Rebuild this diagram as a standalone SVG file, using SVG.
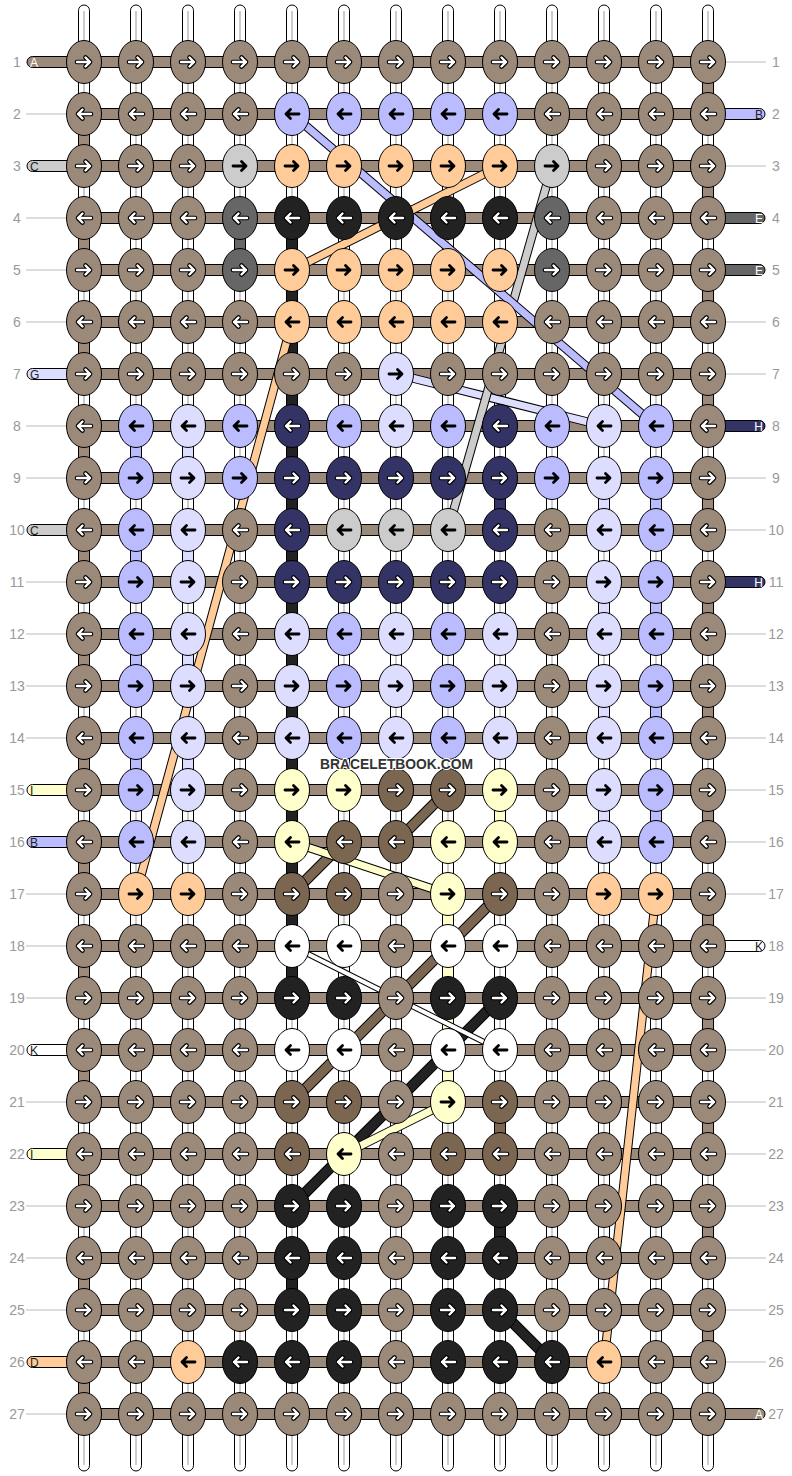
<svg xmlns="http://www.w3.org/2000/svg" xmlns:xlink="http://www.w3.org/1999/xlink" width="792" height="1476" viewBox="0 0 792 1476">
<style>
.st{fill:#fff;stroke:#000;stroke-width:1}
.sg{stroke:#000;stroke-width:1}
.a{fill:#9b8a7a}.b{fill:#bbbbff}.c{fill:#cccccc}.d{fill:#ffcc99}.e{fill:#666666}.f{fill:#222222}.g{fill:#ddddff}.h{fill:#333366}.i{fill:#ffffcc}.j{fill:#7b6651}.k{fill:#ffffff}
.lb{font-family:"Liberation Sans",Arial,sans-serif;font-size:14px;fill:#999;text-anchor:middle}
.sl{font-family:"Liberation Sans",Arial,sans-serif;font-size:12px}
.gl{stroke:#bbb;stroke-width:1}
.o{fill:none;stroke:#000}
</style>
<defs>
<path id="pr" d="M-7,0H6M1.5,-4.5L6,0L1.5,4.5" fill="none" stroke-linecap="round" stroke-linejoin="round"/>
<path id="pl" d="M7,0H-6M-1.5,-4.5L-6,0L-1.5,4.5" fill="none" stroke-linecap="round" stroke-linejoin="round"/>
<g id="wr"><use href="#pr" stroke="#000" stroke-width="4.6"/><use href="#pr" stroke="#fff" stroke-width="2.4"/></g>
<g id="wl"><use href="#pl" stroke="#000" stroke-width="4.6"/><use href="#pl" stroke="#fff" stroke-width="2.4"/></g>
<g id="br"><use href="#pr" stroke="#000" stroke-width="2.8"/></g>
<g id="bl"><use href="#pl" stroke="#000" stroke-width="2.8"/></g>
<ellipse id="kn" rx="17.5" ry="21.5" stroke="#000" stroke-width="1"/>
<g id="aR"><use href="#kn" class="a"/><use href="#wr"/></g>
<g id="aL"><use href="#kn" class="a"/><use href="#wl"/></g>
<g id="eR"><use href="#kn" class="e"/><use href="#wr"/></g>
<g id="eL"><use href="#kn" class="e"/><use href="#wl"/></g>
<g id="fR"><use href="#kn" class="f"/><use href="#wr"/></g>
<g id="fL"><use href="#kn" class="f"/><use href="#wl"/></g>
<g id="hR"><use href="#kn" class="h"/><use href="#wr"/></g>
<g id="hL"><use href="#kn" class="h"/><use href="#wl"/></g>
<g id="jR"><use href="#kn" class="j"/><use href="#wr"/></g>
<g id="jL"><use href="#kn" class="j"/><use href="#wl"/></g>
<g id="bR"><use href="#kn" class="b"/><use href="#br"/></g>
<g id="bL"><use href="#kn" class="b"/><use href="#bl"/></g>
<g id="cR"><use href="#kn" class="c"/><use href="#br"/></g>
<g id="cL"><use href="#kn" class="c"/><use href="#bl"/></g>
<g id="dR"><use href="#kn" class="d"/><use href="#br"/></g>
<g id="dL"><use href="#kn" class="d"/><use href="#bl"/></g>
<g id="gR"><use href="#kn" class="g"/><use href="#br"/></g>
<g id="gL"><use href="#kn" class="g"/><use href="#bl"/></g>
<g id="iR"><use href="#kn" class="i"/><use href="#br"/></g>
<g id="iL"><use href="#kn" class="i"/><use href="#bl"/></g>
<g id="kR"><use href="#kn" class="k"/><use href="#br"/></g>
<g id="kL"><use href="#kn" class="k"/><use href="#bl"/></g>
</defs>
<rect width="792" height="1476" fill="#fff"/>
<g id="strands">
<rect class="st" x="78.5" y="5" width="11" height="1466" rx="5.5"/>
<rect class="st" x="130.5" y="5" width="11" height="1466" rx="5.5"/>
<rect class="st" x="182.5" y="5" width="11" height="1466" rx="5.5"/>
<rect class="st" x="234.5" y="5" width="11" height="1466" rx="5.5"/>
<rect class="st" x="286.5" y="5" width="11" height="1466" rx="5.5"/>
<rect class="st" x="338.5" y="5" width="11" height="1466" rx="5.5"/>
<rect class="st" x="390.5" y="5" width="11" height="1466" rx="5.5"/>
<rect class="st" x="442.5" y="5" width="11" height="1466" rx="5.5"/>
<rect class="st" x="494.5" y="5" width="11" height="1466" rx="5.5"/>
<rect class="st" x="546.5" y="5" width="11" height="1466" rx="5.5"/>
<rect class="st" x="598.5" y="5" width="11" height="1466" rx="5.5"/>
<rect class="st" x="650.5" y="5" width="11" height="1466" rx="5.5"/>
<rect class="st" x="702.5" y="5" width="11" height="1466" rx="5.5"/>
<path d="M84,11V1465M136,11V1465M188,11V1465M240,11V1465M292,11V1465M344,11V1465M396,11V1465M448,11V1465M500,11V1465M552,11V1465M604,11V1465M656,11V1465M708,11V1465" stroke="#cccccc" stroke-width="2" fill="none"/>
</g>
<g id="connectors">
<g id="vertical-segments">
<rect class="sg a" x="78.5" y="114" width="11" height="52"/>
<rect class="sg a" x="78.5" y="218" width="11" height="52"/>
<rect class="sg a" x="78.5" y="322" width="11" height="52"/>
<rect class="sg a" x="78.5" y="426" width="11" height="52"/>
<rect class="sg a" x="78.5" y="530" width="11" height="52"/>
<rect class="sg a" x="78.5" y="634" width="11" height="52"/>
<rect class="sg a" x="78.5" y="738" width="11" height="52"/>
<rect class="sg a" x="78.5" y="842" width="11" height="52"/>
<rect class="sg a" x="78.5" y="946" width="11" height="52"/>
<rect class="sg a" x="78.5" y="1050" width="11" height="52"/>
<rect class="sg a" x="78.5" y="1154" width="11" height="52"/>
<rect class="sg a" x="78.5" y="1258" width="11" height="52"/>
<rect class="sg a" x="78.5" y="1362" width="11" height="52"/>
<rect class="sg a" x="702.5" y="62" width="11" height="52"/>
<rect class="sg a" x="702.5" y="166" width="11" height="52"/>
<rect class="sg a" x="702.5" y="270" width="11" height="52"/>
<rect class="sg a" x="702.5" y="374" width="11" height="52"/>
<rect class="sg a" x="702.5" y="478" width="11" height="52"/>
<rect class="sg a" x="702.5" y="582" width="11" height="52"/>
<rect class="sg a" x="702.5" y="686" width="11" height="52"/>
<rect class="sg a" x="702.5" y="790" width="11" height="52"/>
<rect class="sg a" x="702.5" y="894" width="11" height="52"/>
<rect class="sg a" x="702.5" y="998" width="11" height="52"/>
<rect class="sg a" x="702.5" y="1102" width="11" height="52"/>
<rect class="sg a" x="702.5" y="1206" width="11" height="52"/>
<rect class="sg a" x="702.5" y="1310" width="11" height="52"/>
<rect class="sg e" x="234.5" y="218" width="11" height="52"/>
<rect class="sg f" x="286.5" y="218" width="11" height="780"/>
<rect class="sg f" x="286.5" y="1258" width="11" height="52"/>
<rect class="sg b" x="130.5" y="426" width="11" height="52"/>
<rect class="sg b" x="130.5" y="530" width="11" height="52"/>
<rect class="sg b" x="130.5" y="634" width="11" height="52"/>
<rect class="sg b" x="130.5" y="738" width="11" height="52"/>
<rect class="sg g" x="182.5" y="426" width="11" height="52"/>
<rect class="sg g" x="182.5" y="530" width="11" height="52"/>
<rect class="sg g" x="182.5" y="634" width="11" height="52"/>
<rect class="sg g" x="182.5" y="738" width="11" height="52"/>
<rect class="sg h" x="494.5" y="478" width="11" height="52"/>
<rect class="sg g" x="598.5" y="478" width="11" height="52"/>
<rect class="sg g" x="598.5" y="582" width="11" height="52"/>
<rect class="sg g" x="598.5" y="686" width="11" height="52"/>
<rect class="sg g" x="598.5" y="790" width="11" height="52"/>
<rect class="sg b" x="650.5" y="478" width="11" height="52"/>
<rect class="sg b" x="650.5" y="582" width="11" height="52"/>
<rect class="sg b" x="650.5" y="686" width="11" height="52"/>
<rect class="sg b" x="650.5" y="790" width="11" height="52"/>
<rect class="sg i" x="494.5" y="790" width="11" height="52"/>
<rect class="sg i" x="442.5" y="894" width="11" height="208"/>
<rect class="sg j" x="494.5" y="1102" width="11" height="52"/>
<rect class="sg f" x="494.5" y="1206" width="11" height="52"/>
</g>
<g id="row-strings">
<rect class="sg a" x="84" y="56.5" width="624" height="11"/>
<rect class="sg a" x="84" y="108.5" width="624" height="11"/>
<rect class="sg a" x="84" y="160.5" width="624" height="11"/>
<rect class="sg a" x="84" y="212.5" width="624" height="11"/>
<rect class="sg a" x="84" y="264.5" width="624" height="11"/>
<rect class="sg a" x="84" y="316.5" width="624" height="11"/>
<rect class="sg a" x="84" y="368.5" width="624" height="11"/>
<rect class="sg a" x="84" y="420.5" width="624" height="11"/>
<rect class="sg a" x="84" y="472.5" width="624" height="11"/>
<rect class="sg a" x="84" y="524.5" width="624" height="11"/>
<rect class="sg a" x="84" y="576.5" width="624" height="11"/>
<rect class="sg a" x="84" y="628.5" width="624" height="11"/>
<rect class="sg a" x="84" y="680.5" width="624" height="11"/>
<rect class="sg a" x="84" y="732.5" width="624" height="11"/>
<rect class="sg a" x="84" y="784.5" width="624" height="11"/>
<rect class="sg a" x="84" y="836.5" width="624" height="11"/>
<rect class="sg a" x="84" y="888.5" width="624" height="11"/>
<rect class="sg a" x="84" y="940.5" width="624" height="11"/>
<rect class="sg a" x="84" y="992.5" width="624" height="11"/>
<rect class="sg a" x="84" y="1044.5" width="624" height="11"/>
<rect class="sg a" x="84" y="1096.5" width="624" height="11"/>
<rect class="sg a" x="84" y="1148.5" width="624" height="11"/>
<rect class="sg a" x="84" y="1200.5" width="624" height="11"/>
<rect class="sg a" x="84" y="1252.5" width="624" height="11"/>
<rect class="sg a" x="84" y="1304.5" width="624" height="11"/>
<rect class="sg a" x="84" y="1356.5" width="624" height="11"/>
<rect class="sg a" x="84" y="1408.5" width="624" height="11"/>
</g>
<g id="side-lines">
<path class="gl" d="M26,114H66M26,218H66M26,270H66M26,322H66M26,426H66M26,478H66M26,582H66M26,634H66M26,686H66M26,738H66M26,894H66M26,946H66M26,998H66M26,1102H66M26,1206H66M26,1258H66M26,1310H66M26,1414H66"/>
<path class="gl" d="M726,62H766M726,166H766M726,322H766M726,374H766M726,478H766M726,530H766M726,634H766M726,686H766M726,738H766M726,790H766M726,842H766M726,894H766M726,998H766M726,1050H766M726,1102H766M726,1154H766M726,1206H766M726,1258H766M726,1310H766M726,1362H766"/>
</g>
<g id="stubs">
<rect class="sg a" x="27" y="56.5" width="60" height="11" rx="5.5"/><text class="sl" x="30" y="66.5" fill="#fff">A</text>
<rect class="sg c" x="27" y="160.5" width="60" height="11" rx="5.5"/><text class="sl" x="30" y="170.5" fill="#222">C</text>
<rect class="sg g" x="27" y="368.5" width="60" height="11" rx="5.5"/><text class="sl" x="30" y="378.5" fill="#222">G</text>
<rect class="sg c" x="27" y="524.5" width="60" height="11" rx="5.5"/><text class="sl" x="30" y="534.5" fill="#222">C</text>
<rect class="sg i" x="27" y="784.5" width="60" height="11" rx="5.5"/><text class="sl" x="30" y="794.5" fill="#222">I</text>
<rect class="sg b" x="27" y="836.5" width="60" height="11" rx="5.5"/><text class="sl" x="30" y="846.5" fill="#222">B</text>
<rect class="sg k" x="27" y="1044.5" width="60" height="11" rx="5.5"/><text class="sl" x="30" y="1054.5" fill="#222">K</text>
<rect class="sg i" x="27" y="1148.5" width="60" height="11" rx="5.5"/><text class="sl" x="30" y="1158.5" fill="#222">I</text>
<rect class="sg d" x="27" y="1356.5" width="60" height="11" rx="5.5"/><text class="sl" x="30" y="1366.5" fill="#222">D</text>
<rect class="sg b" x="705" y="108.5" width="60" height="11" rx="5.5"/><text class="sl" x="763" y="118.5" fill="#222" text-anchor="end">B</text>
<rect class="sg e" x="705" y="212.5" width="60" height="11" rx="5.5"/><text class="sl" x="763" y="222.5" fill="#fff" text-anchor="end">E</text>
<rect class="sg e" x="705" y="264.5" width="60" height="11" rx="5.5"/><text class="sl" x="763" y="274.5" fill="#fff" text-anchor="end">E</text>
<rect class="sg h" x="705" y="420.5" width="60" height="11" rx="5.5"/><text class="sl" x="763" y="430.5" fill="#fff" text-anchor="end">H</text>
<rect class="sg h" x="705" y="576.5" width="60" height="11" rx="5.5"/><text class="sl" x="763" y="586.5" fill="#fff" text-anchor="end">H</text>
<rect class="sg k" x="705" y="940.5" width="60" height="11" rx="5.5"/><text class="sl" x="763" y="950.5" fill="#222" text-anchor="end">K</text>
<rect class="sg a" x="705" y="1408.5" width="60" height="11" rx="5.5"/><text class="sl" x="763" y="1418.5" fill="#fff" text-anchor="end">A</text>
</g>
<g id="diagonals" fill="none">
<path class="o" d="M396,374L604,426" stroke-width="9"/><path d="M396,374L604,426" stroke="#ddddff" stroke-width="7"/>
<path class="o" d="M552,166L448,530" stroke-width="9"/><path d="M552,166L448,530" stroke="#cccccc" stroke-width="7"/>
<path class="o" d="M292,114L656,426" stroke-width="9"/><path d="M292,114L656,426" stroke="#bbbbff" stroke-width="7"/>
<path class="o" d="M500,166L292,270" stroke-width="9"/><path d="M500,166L292,270" stroke="#ffcc99" stroke-width="7"/>
<path class="o" d="M292,322L136,894" stroke-width="9"/><path d="M292,322L136,894" stroke="#ffcc99" stroke-width="7"/>
<path class="o" d="M656,894L604,1362" stroke-width="9"/><path d="M656,894L604,1362" stroke="#ffcc99" stroke-width="7"/>
<path class="o" d="M448,790L396,842M344,842L292,894M500,894L292,1102" stroke-width="11"/><path d="M448,790L396,842M344,842L292,894M500,894L292,1102" stroke="#7b6651" stroke-width="9"/>
<path class="o" d="M500,998L292,1206M500,1310L552,1362" stroke-width="11"/><path d="M500,998L292,1206M500,1310L552,1362" stroke="#222222" stroke-width="9"/>
<path class="o" d="M292,842L448,894M448,1102L344,1154" stroke-width="9"/><path d="M292,842L448,894M448,1102L344,1154" stroke="#ffffcc" stroke-width="7"/>
<path class="o" d="M292,946L500,1050" stroke-width="6"/><path d="M292,946L500,1050" stroke="#ffffff" stroke-width="4"/>
</g>
</g>
<g id="knots">
<g id="row1"><use id="k1-1" href="#aR" x="84" y="62"/><use id="k1-2" href="#aR" x="136" y="62"/><use id="k1-3" href="#aR" x="188" y="62"/><use id="k1-4" href="#aR" x="240" y="62"/><use id="k1-5" href="#aR" x="292" y="62"/><use id="k1-6" href="#aR" x="344" y="62"/><use id="k1-7" href="#aR" x="396" y="62"/><use id="k1-8" href="#aR" x="448" y="62"/><use id="k1-9" href="#aR" x="500" y="62"/><use id="k1-10" href="#aR" x="552" y="62"/><use id="k1-11" href="#aR" x="604" y="62"/><use id="k1-12" href="#aR" x="656" y="62"/><use id="k1-13" href="#aR" x="708" y="62"/></g>
<g id="row2"><use id="k2-1" href="#aL" x="84" y="114"/><use id="k2-2" href="#aL" x="136" y="114"/><use id="k2-3" href="#aL" x="188" y="114"/><use id="k2-4" href="#aL" x="240" y="114"/><use id="k2-5" href="#bL" x="292" y="114"/><use id="k2-6" href="#bL" x="344" y="114"/><use id="k2-7" href="#bL" x="396" y="114"/><use id="k2-8" href="#bL" x="448" y="114"/><use id="k2-9" href="#bL" x="500" y="114"/><use id="k2-10" href="#aL" x="552" y="114"/><use id="k2-11" href="#aL" x="604" y="114"/><use id="k2-12" href="#aL" x="656" y="114"/><use id="k2-13" href="#aL" x="708" y="114"/></g>
<g id="row3"><use id="k3-1" href="#aR" x="84" y="166"/><use id="k3-2" href="#aR" x="136" y="166"/><use id="k3-3" href="#aR" x="188" y="166"/><use id="k3-4" href="#cR" x="240" y="166"/><use id="k3-5" href="#dR" x="292" y="166"/><use id="k3-6" href="#dR" x="344" y="166"/><use id="k3-7" href="#dR" x="396" y="166"/><use id="k3-8" href="#dR" x="448" y="166"/><use id="k3-9" href="#dR" x="500" y="166"/><use id="k3-10" href="#cR" x="552" y="166"/><use id="k3-11" href="#aR" x="604" y="166"/><use id="k3-12" href="#aR" x="656" y="166"/><use id="k3-13" href="#aR" x="708" y="166"/></g>
<g id="row4"><use id="k4-1" href="#aL" x="84" y="218"/><use id="k4-2" href="#aL" x="136" y="218"/><use id="k4-3" href="#aL" x="188" y="218"/><use id="k4-4" href="#eL" x="240" y="218"/><use id="k4-5" href="#fL" x="292" y="218"/><use id="k4-6" href="#fL" x="344" y="218"/><use id="k4-7" href="#fL" x="396" y="218"/><use id="k4-8" href="#fL" x="448" y="218"/><use id="k4-9" href="#fL" x="500" y="218"/><use id="k4-10" href="#eL" x="552" y="218"/><use id="k4-11" href="#aL" x="604" y="218"/><use id="k4-12" href="#aL" x="656" y="218"/><use id="k4-13" href="#aL" x="708" y="218"/></g>
<g id="row5"><use id="k5-1" href="#aR" x="84" y="270"/><use id="k5-2" href="#aR" x="136" y="270"/><use id="k5-3" href="#aR" x="188" y="270"/><use id="k5-4" href="#eR" x="240" y="270"/><use id="k5-5" href="#dR" x="292" y="270"/><use id="k5-6" href="#dR" x="344" y="270"/><use id="k5-7" href="#dR" x="396" y="270"/><use id="k5-8" href="#dR" x="448" y="270"/><use id="k5-9" href="#dR" x="500" y="270"/><use id="k5-10" href="#eR" x="552" y="270"/><use id="k5-11" href="#aR" x="604" y="270"/><use id="k5-12" href="#aR" x="656" y="270"/><use id="k5-13" href="#aR" x="708" y="270"/></g>
<g id="row6"><use id="k6-1" href="#aL" x="84" y="322"/><use id="k6-2" href="#aL" x="136" y="322"/><use id="k6-3" href="#aL" x="188" y="322"/><use id="k6-4" href="#aL" x="240" y="322"/><use id="k6-5" href="#dL" x="292" y="322"/><use id="k6-6" href="#dL" x="344" y="322"/><use id="k6-7" href="#dL" x="396" y="322"/><use id="k6-8" href="#dL" x="448" y="322"/><use id="k6-9" href="#dL" x="500" y="322"/><use id="k6-10" href="#aL" x="552" y="322"/><use id="k6-11" href="#aL" x="604" y="322"/><use id="k6-12" href="#aL" x="656" y="322"/><use id="k6-13" href="#aL" x="708" y="322"/></g>
<g id="row7"><use id="k7-1" href="#aR" x="84" y="374"/><use id="k7-2" href="#aR" x="136" y="374"/><use id="k7-3" href="#aR" x="188" y="374"/><use id="k7-4" href="#aR" x="240" y="374"/><use id="k7-5" href="#aR" x="292" y="374"/><use id="k7-6" href="#aR" x="344" y="374"/><use id="k7-7" href="#gR" x="396" y="374"/><use id="k7-8" href="#aR" x="448" y="374"/><use id="k7-9" href="#aR" x="500" y="374"/><use id="k7-10" href="#aR" x="552" y="374"/><use id="k7-11" href="#aR" x="604" y="374"/><use id="k7-12" href="#aR" x="656" y="374"/><use id="k7-13" href="#aR" x="708" y="374"/></g>
<g id="row8"><use id="k8-1" href="#aL" x="84" y="426"/><use id="k8-2" href="#bL" x="136" y="426"/><use id="k8-3" href="#gL" x="188" y="426"/><use id="k8-4" href="#bL" x="240" y="426"/><use id="k8-5" href="#hL" x="292" y="426"/><use id="k8-6" href="#bL" x="344" y="426"/><use id="k8-7" href="#gL" x="396" y="426"/><use id="k8-8" href="#bL" x="448" y="426"/><use id="k8-9" href="#hL" x="500" y="426"/><use id="k8-10" href="#bL" x="552" y="426"/><use id="k8-11" href="#gL" x="604" y="426"/><use id="k8-12" href="#bL" x="656" y="426"/><use id="k8-13" href="#aL" x="708" y="426"/></g>
<g id="row9"><use id="k9-1" href="#aR" x="84" y="478"/><use id="k9-2" href="#bR" x="136" y="478"/><use id="k9-3" href="#gR" x="188" y="478"/><use id="k9-4" href="#bR" x="240" y="478"/><use id="k9-5" href="#hR" x="292" y="478"/><use id="k9-6" href="#hR" x="344" y="478"/><use id="k9-7" href="#hR" x="396" y="478"/><use id="k9-8" href="#hR" x="448" y="478"/><use id="k9-9" href="#hR" x="500" y="478"/><use id="k9-10" href="#bR" x="552" y="478"/><use id="k9-11" href="#gR" x="604" y="478"/><use id="k9-12" href="#bR" x="656" y="478"/><use id="k9-13" href="#aR" x="708" y="478"/></g>
<g id="row10"><use id="k10-1" href="#aL" x="84" y="530"/><use id="k10-2" href="#bL" x="136" y="530"/><use id="k10-3" href="#gL" x="188" y="530"/><use id="k10-4" href="#aL" x="240" y="530"/><use id="k10-5" href="#hL" x="292" y="530"/><use id="k10-6" href="#cL" x="344" y="530"/><use id="k10-7" href="#cL" x="396" y="530"/><use id="k10-8" href="#cL" x="448" y="530"/><use id="k10-9" href="#hL" x="500" y="530"/><use id="k10-10" href="#aL" x="552" y="530"/><use id="k10-11" href="#gL" x="604" y="530"/><use id="k10-12" href="#bL" x="656" y="530"/><use id="k10-13" href="#aL" x="708" y="530"/></g>
<g id="row11"><use id="k11-1" href="#aR" x="84" y="582"/><use id="k11-2" href="#bR" x="136" y="582"/><use id="k11-3" href="#gR" x="188" y="582"/><use id="k11-4" href="#aR" x="240" y="582"/><use id="k11-5" href="#hR" x="292" y="582"/><use id="k11-6" href="#hR" x="344" y="582"/><use id="k11-7" href="#hR" x="396" y="582"/><use id="k11-8" href="#hR" x="448" y="582"/><use id="k11-9" href="#hR" x="500" y="582"/><use id="k11-10" href="#aR" x="552" y="582"/><use id="k11-11" href="#gR" x="604" y="582"/><use id="k11-12" href="#bR" x="656" y="582"/><use id="k11-13" href="#aR" x="708" y="582"/></g>
<g id="row12"><use id="k12-1" href="#aL" x="84" y="634"/><use id="k12-2" href="#bL" x="136" y="634"/><use id="k12-3" href="#gL" x="188" y="634"/><use id="k12-4" href="#aL" x="240" y="634"/><use id="k12-5" href="#gL" x="292" y="634"/><use id="k12-6" href="#bL" x="344" y="634"/><use id="k12-7" href="#gL" x="396" y="634"/><use id="k12-8" href="#bL" x="448" y="634"/><use id="k12-9" href="#gL" x="500" y="634"/><use id="k12-10" href="#aL" x="552" y="634"/><use id="k12-11" href="#gL" x="604" y="634"/><use id="k12-12" href="#bL" x="656" y="634"/><use id="k12-13" href="#aL" x="708" y="634"/></g>
<g id="row13"><use id="k13-1" href="#aR" x="84" y="686"/><use id="k13-2" href="#bR" x="136" y="686"/><use id="k13-3" href="#gR" x="188" y="686"/><use id="k13-4" href="#aR" x="240" y="686"/><use id="k13-5" href="#gR" x="292" y="686"/><use id="k13-6" href="#bR" x="344" y="686"/><use id="k13-7" href="#gR" x="396" y="686"/><use id="k13-8" href="#bR" x="448" y="686"/><use id="k13-9" href="#gR" x="500" y="686"/><use id="k13-10" href="#aR" x="552" y="686"/><use id="k13-11" href="#gR" x="604" y="686"/><use id="k13-12" href="#bR" x="656" y="686"/><use id="k13-13" href="#aR" x="708" y="686"/></g>
<g id="row14"><use id="k14-1" href="#aL" x="84" y="738"/><use id="k14-2" href="#bL" x="136" y="738"/><use id="k14-3" href="#gL" x="188" y="738"/><use id="k14-4" href="#aL" x="240" y="738"/><use id="k14-5" href="#gL" x="292" y="738"/><use id="k14-6" href="#bL" x="344" y="738"/><use id="k14-7" href="#gL" x="396" y="738"/><use id="k14-8" href="#bL" x="448" y="738"/><use id="k14-9" href="#gL" x="500" y="738"/><use id="k14-10" href="#aL" x="552" y="738"/><use id="k14-11" href="#gL" x="604" y="738"/><use id="k14-12" href="#bL" x="656" y="738"/><use id="k14-13" href="#aL" x="708" y="738"/></g>
<g id="row15"><use id="k15-1" href="#aR" x="84" y="790"/><use id="k15-2" href="#bR" x="136" y="790"/><use id="k15-3" href="#gR" x="188" y="790"/><use id="k15-4" href="#aR" x="240" y="790"/><use id="k15-5" href="#iR" x="292" y="790"/><use id="k15-6" href="#iR" x="344" y="790"/><use id="k15-7" href="#jR" x="396" y="790"/><use id="k15-8" href="#jR" x="448" y="790"/><use id="k15-9" href="#iR" x="500" y="790"/><use id="k15-10" href="#aR" x="552" y="790"/><use id="k15-11" href="#gR" x="604" y="790"/><use id="k15-12" href="#bR" x="656" y="790"/><use id="k15-13" href="#aR" x="708" y="790"/></g>
<g id="row16"><use id="k16-1" href="#aL" x="84" y="842"/><use id="k16-2" href="#bL" x="136" y="842"/><use id="k16-3" href="#gL" x="188" y="842"/><use id="k16-4" href="#aL" x="240" y="842"/><use id="k16-5" href="#iL" x="292" y="842"/><use id="k16-6" href="#jL" x="344" y="842"/><use id="k16-7" href="#jL" x="396" y="842"/><use id="k16-8" href="#iL" x="448" y="842"/><use id="k16-9" href="#iL" x="500" y="842"/><use id="k16-10" href="#aL" x="552" y="842"/><use id="k16-11" href="#gL" x="604" y="842"/><use id="k16-12" href="#bL" x="656" y="842"/><use id="k16-13" href="#aL" x="708" y="842"/></g>
<g id="row17"><use id="k17-1" href="#aR" x="84" y="894"/><use id="k17-2" href="#dR" x="136" y="894"/><use id="k17-3" href="#dR" x="188" y="894"/><use id="k17-4" href="#aR" x="240" y="894"/><use id="k17-5" href="#jR" x="292" y="894"/><use id="k17-6" href="#jR" x="344" y="894"/><use id="k17-7" href="#aR" x="396" y="894"/><use id="k17-8" href="#iR" x="448" y="894"/><use id="k17-9" href="#jR" x="500" y="894"/><use id="k17-10" href="#aR" x="552" y="894"/><use id="k17-11" href="#dR" x="604" y="894"/><use id="k17-12" href="#dR" x="656" y="894"/><use id="k17-13" href="#aR" x="708" y="894"/></g>
<g id="row18"><use id="k18-1" href="#aL" x="84" y="946"/><use id="k18-2" href="#aL" x="136" y="946"/><use id="k18-3" href="#aL" x="188" y="946"/><use id="k18-4" href="#aL" x="240" y="946"/><use id="k18-5" href="#kL" x="292" y="946"/><use id="k18-6" href="#kL" x="344" y="946"/><use id="k18-7" href="#aL" x="396" y="946"/><use id="k18-8" href="#kL" x="448" y="946"/><use id="k18-9" href="#kL" x="500" y="946"/><use id="k18-10" href="#aL" x="552" y="946"/><use id="k18-11" href="#aL" x="604" y="946"/><use id="k18-12" href="#aL" x="656" y="946"/><use id="k18-13" href="#aL" x="708" y="946"/></g>
<g id="row19"><use id="k19-1" href="#aR" x="84" y="998"/><use id="k19-2" href="#aR" x="136" y="998"/><use id="k19-3" href="#aR" x="188" y="998"/><use id="k19-4" href="#aR" x="240" y="998"/><use id="k19-5" href="#fR" x="292" y="998"/><use id="k19-6" href="#fR" x="344" y="998"/><use id="k19-7" href="#aR" x="396" y="998"/><use id="k19-8" href="#fR" x="448" y="998"/><use id="k19-9" href="#fR" x="500" y="998"/><use id="k19-10" href="#aR" x="552" y="998"/><use id="k19-11" href="#aR" x="604" y="998"/><use id="k19-12" href="#aR" x="656" y="998"/><use id="k19-13" href="#aR" x="708" y="998"/></g>
<g id="row20"><use id="k20-1" href="#aL" x="84" y="1050"/><use id="k20-2" href="#aL" x="136" y="1050"/><use id="k20-3" href="#aL" x="188" y="1050"/><use id="k20-4" href="#aL" x="240" y="1050"/><use id="k20-5" href="#kL" x="292" y="1050"/><use id="k20-6" href="#kL" x="344" y="1050"/><use id="k20-7" href="#aL" x="396" y="1050"/><use id="k20-8" href="#kL" x="448" y="1050"/><use id="k20-9" href="#kL" x="500" y="1050"/><use id="k20-10" href="#aL" x="552" y="1050"/><use id="k20-11" href="#aL" x="604" y="1050"/><use id="k20-12" href="#aL" x="656" y="1050"/><use id="k20-13" href="#aL" x="708" y="1050"/></g>
<g id="row21"><use id="k21-1" href="#aR" x="84" y="1102"/><use id="k21-2" href="#aR" x="136" y="1102"/><use id="k21-3" href="#aR" x="188" y="1102"/><use id="k21-4" href="#aR" x="240" y="1102"/><use id="k21-5" href="#jR" x="292" y="1102"/><use id="k21-6" href="#jR" x="344" y="1102"/><use id="k21-7" href="#aR" x="396" y="1102"/><use id="k21-8" href="#iR" x="448" y="1102"/><use id="k21-9" href="#jR" x="500" y="1102"/><use id="k21-10" href="#aR" x="552" y="1102"/><use id="k21-11" href="#aR" x="604" y="1102"/><use id="k21-12" href="#aR" x="656" y="1102"/><use id="k21-13" href="#aR" x="708" y="1102"/></g>
<g id="row22"><use id="k22-1" href="#aL" x="84" y="1154"/><use id="k22-2" href="#aL" x="136" y="1154"/><use id="k22-3" href="#aL" x="188" y="1154"/><use id="k22-4" href="#aL" x="240" y="1154"/><use id="k22-5" href="#jL" x="292" y="1154"/><use id="k22-6" href="#iL" x="344" y="1154"/><use id="k22-7" href="#aL" x="396" y="1154"/><use id="k22-8" href="#jL" x="448" y="1154"/><use id="k22-9" href="#jL" x="500" y="1154"/><use id="k22-10" href="#aL" x="552" y="1154"/><use id="k22-11" href="#aL" x="604" y="1154"/><use id="k22-12" href="#aL" x="656" y="1154"/><use id="k22-13" href="#aL" x="708" y="1154"/></g>
<g id="row23"><use id="k23-1" href="#aR" x="84" y="1206"/><use id="k23-2" href="#aR" x="136" y="1206"/><use id="k23-3" href="#aR" x="188" y="1206"/><use id="k23-4" href="#aR" x="240" y="1206"/><use id="k23-5" href="#fR" x="292" y="1206"/><use id="k23-6" href="#fR" x="344" y="1206"/><use id="k23-7" href="#aR" x="396" y="1206"/><use id="k23-8" href="#fR" x="448" y="1206"/><use id="k23-9" href="#fR" x="500" y="1206"/><use id="k23-10" href="#aR" x="552" y="1206"/><use id="k23-11" href="#aR" x="604" y="1206"/><use id="k23-12" href="#aR" x="656" y="1206"/><use id="k23-13" href="#aR" x="708" y="1206"/></g>
<g id="row24"><use id="k24-1" href="#aL" x="84" y="1258"/><use id="k24-2" href="#aL" x="136" y="1258"/><use id="k24-3" href="#aL" x="188" y="1258"/><use id="k24-4" href="#aL" x="240" y="1258"/><use id="k24-5" href="#fL" x="292" y="1258"/><use id="k24-6" href="#fL" x="344" y="1258"/><use id="k24-7" href="#aL" x="396" y="1258"/><use id="k24-8" href="#fL" x="448" y="1258"/><use id="k24-9" href="#fL" x="500" y="1258"/><use id="k24-10" href="#aL" x="552" y="1258"/><use id="k24-11" href="#aL" x="604" y="1258"/><use id="k24-12" href="#aL" x="656" y="1258"/><use id="k24-13" href="#aL" x="708" y="1258"/></g>
<g id="row25"><use id="k25-1" href="#aR" x="84" y="1310"/><use id="k25-2" href="#aR" x="136" y="1310"/><use id="k25-3" href="#aR" x="188" y="1310"/><use id="k25-4" href="#aR" x="240" y="1310"/><use id="k25-5" href="#fR" x="292" y="1310"/><use id="k25-6" href="#fR" x="344" y="1310"/><use id="k25-7" href="#aR" x="396" y="1310"/><use id="k25-8" href="#fR" x="448" y="1310"/><use id="k25-9" href="#fR" x="500" y="1310"/><use id="k25-10" href="#aR" x="552" y="1310"/><use id="k25-11" href="#aR" x="604" y="1310"/><use id="k25-12" href="#aR" x="656" y="1310"/><use id="k25-13" href="#aR" x="708" y="1310"/></g>
<g id="row26"><use id="k26-1" href="#aL" x="84" y="1362"/><use id="k26-2" href="#aL" x="136" y="1362"/><use id="k26-3" href="#dL" x="188" y="1362"/><use id="k26-4" href="#fL" x="240" y="1362"/><use id="k26-5" href="#fL" x="292" y="1362"/><use id="k26-6" href="#fL" x="344" y="1362"/><use id="k26-7" href="#aL" x="396" y="1362"/><use id="k26-8" href="#fL" x="448" y="1362"/><use id="k26-9" href="#fL" x="500" y="1362"/><use id="k26-10" href="#fL" x="552" y="1362"/><use id="k26-11" href="#dL" x="604" y="1362"/><use id="k26-12" href="#aL" x="656" y="1362"/><use id="k26-13" href="#aL" x="708" y="1362"/></g>
<g id="row27"><use id="k27-1" href="#aR" x="84" y="1414"/><use id="k27-2" href="#aR" x="136" y="1414"/><use id="k27-3" href="#aR" x="188" y="1414"/><use id="k27-4" href="#aR" x="240" y="1414"/><use id="k27-5" href="#aR" x="292" y="1414"/><use id="k27-6" href="#aR" x="344" y="1414"/><use id="k27-7" href="#aR" x="396" y="1414"/><use id="k27-8" href="#aR" x="448" y="1414"/><use id="k27-9" href="#aR" x="500" y="1414"/><use id="k27-10" href="#aR" x="552" y="1414"/><use id="k27-11" href="#aR" x="604" y="1414"/><use id="k27-12" href="#aR" x="656" y="1414"/><use id="k27-13" href="#aR" x="708" y="1414"/></g>
</g>
<g id="labels-left" class="lb">
<text x="17" y="67">1</text><text x="17" y="119">2</text><text x="17" y="171">3</text><text x="17" y="223">4</text><text x="17" y="275">5</text><text x="17" y="327">6</text><text x="17" y="379">7</text><text x="17" y="431">8</text><text x="17" y="483">9</text><text x="17" y="535">10</text><text x="17" y="587">11</text><text x="17" y="639">12</text><text x="17" y="691">13</text><text x="17" y="743">14</text><text x="17" y="795">15</text><text x="17" y="847">16</text><text x="17" y="899">17</text><text x="17" y="951">18</text><text x="17" y="1003">19</text><text x="17" y="1055">20</text><text x="17" y="1107">21</text><text x="17" y="1159">22</text><text x="17" y="1211">23</text><text x="17" y="1263">24</text><text x="17" y="1315">25</text><text x="17" y="1367">26</text><text x="17" y="1419">27</text>
</g>
<g id="labels-right" class="lb">
<text x="776" y="67">1</text><text x="776" y="119">2</text><text x="776" y="171">3</text><text x="776" y="223">4</text><text x="776" y="275">5</text><text x="776" y="327">6</text><text x="776" y="379">7</text><text x="776" y="431">8</text><text x="776" y="483">9</text><text x="776" y="535">10</text><text x="776" y="587">11</text><text x="776" y="639">12</text><text x="776" y="691">13</text><text x="776" y="743">14</text><text x="776" y="795">15</text><text x="776" y="847">16</text><text x="776" y="899">17</text><text x="776" y="951">18</text><text x="776" y="1003">19</text><text x="776" y="1055">20</text><text x="776" y="1107">21</text><text x="776" y="1159">22</text><text x="776" y="1211">23</text><text x="776" y="1263">24</text><text x="776" y="1315">25</text><text x="776" y="1367">26</text><text x="776" y="1419">27</text>
</g>
<text id="watermark" x="396.5" y="769" font-family="Liberation Sans, Arial, sans-serif" font-weight="bold" font-size="14" fill="#333" stroke="#fff" stroke-width="2" paint-order="stroke" text-anchor="middle" textLength="153" lengthAdjust="spacingAndGlyphs">BRACELETBOOK.COM</text>
</svg>
